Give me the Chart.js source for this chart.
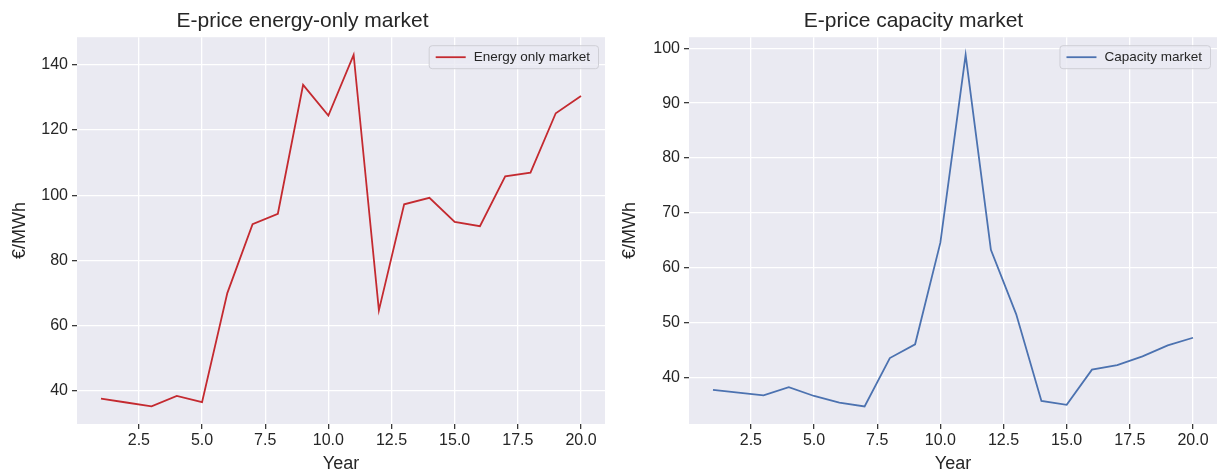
<!DOCTYPE html>
<html>
<head>
<meta charset="utf-8">
<script src="https://cdn.jsdelivr.net/npm/chart.js@4/dist/chart.umd.min.js"></script>
<style>
  html, body { margin: 0; padding: 0; background: #ffffff; }
  #wrap { position: relative; width: 1217px; height: 475px; overflow: hidden; }
  .panel { position: absolute; top: 0; height: 475px; }
  #p1 { left: 0; width: 610px; }
  #p2 { left: 610px; width: 612px; }
</style>
</head>
<body>
<div id="wrap">
  <div class="panel" id="p1"><canvas id="c1"></canvas></div>
  <div class="panel" id="p2"><canvas id="c2"></canvas></div>
</div>
<script>
// Simulation years
const years = [1, 2, 3, 4, 5, 6, 7, 8, 9, 10, 11, 12, 13, 14, 15, 16, 17, 18, 19, 20];

// Electricity price per year, energy-only market (€/MWh)
const energyOnly = [37.7, 36.5, 35.3, 38.5, 36.6, 70.0, 91.1, 94.3, 133.8, 124.4,
                    143.0, 64.7, 97.2, 99.2, 91.8, 90.5, 105.8, 106.9, 125.1, 130.4];

// Electricity price per year, capacity market (€/MWh)
const capacity = [37.8, 37.3, 36.8, 38.3, 36.7, 35.5, 34.8, 43.6, 46.1, 64.6,
                  98.8, 63.3, 51.6, 35.8, 35.1, 41.5, 42.3, 43.9, 45.9, 47.3];

// Axis ticks
const xTicks = [2.5, 5.0, 7.5, 10.0, 12.5, 15.0, 17.5, 20.0];
const yTicksEnergy = [40, 60, 80, 100, 120, 140];
const yTicksCapacity = [40, 50, 60, 70, 80, 90, 100];

const FONT = "'Liberation Sans', Arial, sans-serif";
const INK = '#262626';
const FACE = '#EAEAF2';

// Axis limits with a 5% margin around the data, as in the plotting defaults
function padRange(arr) {
  const lo = Math.min(...arr), hi = Math.max(...arr);
  const m = (hi - lo) * 0.05;
  return [lo - m, hi + m];
}

// Shaded plot background
const facePlugin = {
  id: 'face',
  beforeDraw(chart) {
    const { ctx, chartArea: a } = chart;
    ctx.save();
    ctx.fillStyle = FACE;
    ctx.fillRect(a.left, a.top, a.right - a.left, a.bottom - a.top);
    ctx.restore();
  }
};

// Framed legend in the upper-right corner of the plot area
const boxLegend = {
  id: 'boxLegend',
  afterDatasetsDraw(chart) {
    const { ctx, chartArea: a } = chart;
    const ds = chart.data.datasets[0];
    ctx.save();
    ctx.font = '13.5px ' + FONT;
    const tw = ctx.measureText(ds.label).width;
    const w = 7 + 30 + 8 + tw + 8;
    const h = 23;
    const x = a.right - 7 - w;
    const y = a.top + 8;
    ctx.beginPath();
    if (ctx.roundRect) ctx.roundRect(x + 0.5, y + 0.5, w, h, 3); else ctx.rect(x + 0.5, y + 0.5, w, h);
    ctx.fillStyle = 'rgba(234,234,242,0.8)';
    ctx.fill();
    ctx.strokeStyle = '#cfcfd6';
    ctx.lineWidth = 1;
    ctx.stroke();
    ctx.beginPath();
    ctx.moveTo(x + 7, y + h / 2 + 0.5);
    ctx.lineTo(x + 37, y + h / 2 + 0.5);
    ctx.strokeStyle = ds.borderColor;
    ctx.lineWidth = ds.borderWidth;
    ctx.stroke();
    ctx.fillStyle = INK;
    ctx.textBaseline = 'middle';
    ctx.textAlign = 'left';
    ctx.fillText(ds.label, x + 45, y + h / 2 + 1);
    ctx.restore();
  }
};

function makeChart(canvasId, title, label, values, color, yTicks, yAxisWidth, rightPad) {
  const [ymin, ymax] = padRange(values);
  const pts = years.map((yr, i) => ({ x: yr, y: values[i] }));
  return new Chart(document.getElementById(canvasId), {
    type: 'line',
    data: {
      datasets: [{
        label: label,
        data: pts,
        borderColor: color,
        borderWidth: 1.8,
        pointRadius: 0,
        tension: 0,
        fill: false
      }]
    },
    options: {
      responsive: false,
      animation: false,
      devicePixelRatio: 1,
      layout: { padding: { left: 0, right: rightPad, top: 0, bottom: 0 } },
      plugins: {
        legend: { display: false },
        tooltip: { enabled: false },
        title: {
          display: true,
          text: title,
          color: INK,
          font: { family: FONT, size: 21, weight: 'normal', lineHeight: 1.2 },
          padding: { top: 9, bottom: 3 }
        }
      },
      scales: {
        x: {
          type: 'linear',
          min: 0.05,
          max: 20.95,
          afterBuildTicks(s) { s.ticks = xTicks.map(v => ({ value: v })); },
          afterFit(s) { s.height = 51; },
          ticks: {
            color: INK,
            font: { family: FONT, size: 16 },
            padding: 2,
            maxRotation: 0,
            autoSkip: false,
            callback: v => Number(v).toFixed(1)
          },
          grid: {
            color: '#ffffff',
            lineWidth: 1.3,
            drawTicks: true,
            tickLength: 5,
            tickColor: '#3a3a3a',
            tickWidth: 1.3
          },
          border: { display: false },
          title: {
            display: true,
            text: 'Year',
            color: INK,
            font: { family: FONT, size: 18 },
            padding: { top: 0, bottom: 0 }
          }
        },
        y: {
          type: 'linear',
          min: ymin,
          max: ymax,
          afterBuildTicks(s) { s.ticks = yTicks.map(v => ({ value: v })); },
          afterFit(s) { s.width = yAxisWidth; },
          ticks: {
            color: INK,
            font: { family: FONT, size: 16 },
            padding: 4,
            autoSkip: false,
            callback: v => String(v)
          },
          grid: {
            color: '#ffffff',
            lineWidth: 1.3,
            drawTicks: true,
            tickLength: 5,
            tickColor: '#3a3a3a',
            tickWidth: 1.3
          },
          border: { display: false },
          title: {
            display: true,
            text: '€/MWh',
            color: INK,
            font: { family: FONT, size: 18 },
            padding: { top: 9, bottom: 0 }
          }
        }
      }
    },
    plugins: [facePlugin, boxLegend]
  });
}

const c1 = document.getElementById('c1');
c1.width = 610; c1.height = 475;
const c2 = document.getElementById('c2');
c2.width = 612; c2.height = 475;

makeChart('c1', 'E-price energy-only market', 'Energy only market', energyOnly, '#c42a30', yTicksEnergy, 77, 5);
makeChart('c2', 'E-price capacity market', 'Capacity market', capacity, '#4c72b0', yTicksCapacity, 79, 5);
</script>
</body>
</html>
